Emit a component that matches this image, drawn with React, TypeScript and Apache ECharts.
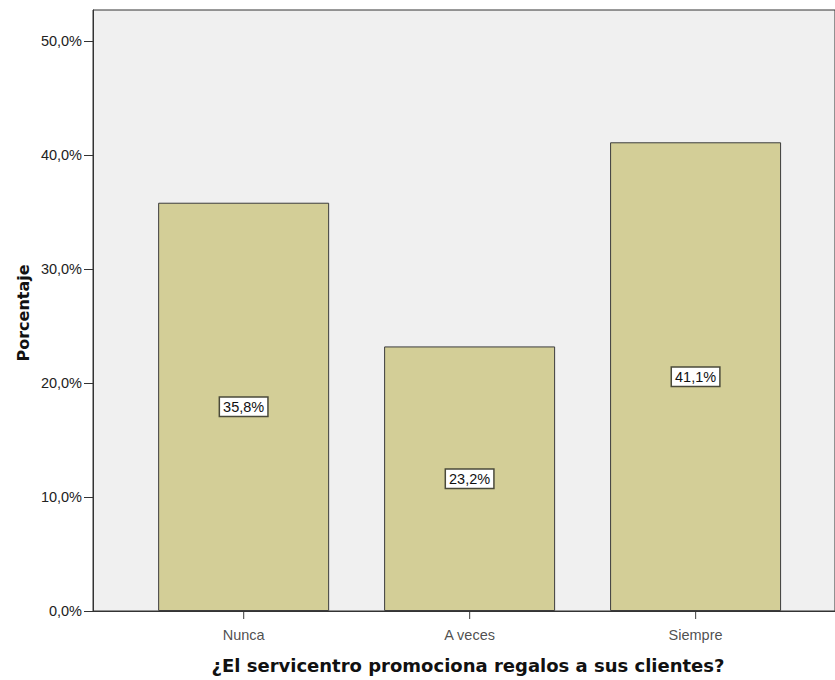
import React, { useEffect, useRef } from "react";
import * as echarts from "echarts";

const categories = ["Nunca", "A veces", "Siempre"];
const percentages = [35.8, 23.2, 41.1];
const yTicks = [0, 10, 20, 30, 40, 50];
const xTitle = "¿El servicentro promociona regalos a sus clientes?";
const yTitle = "Porcentaje";

const FONT = "'Liberation Sans', Arial, sans-serif";
const TITLE_FONT = "'DejaVu Sans', Verdana, sans-serif";
const fmt = (v: number) => v.toFixed(1).replace(".", ",") + "%";

export default function App() {
  const ref = useRef<HTMLDivElement>(null);
  useEffect(() => {
    if (!ref.current) return;
    const chart = echarts.init(ref.current, null, { renderer: "svg" });
    chart.setOption({
      animation: false,
      backgroundColor: "#ffffff",
      grid: {
        left: 93,
        right: 0,
        top: 10,
        bottom: 680 - 611,
        show: true,
        backgroundColor: "#f0f0f0",
        borderColor: "#333333",
        borderWidth: 1,
      },
      xAxis: {
        type: "value",
        min: 1 / 3,
        max: 3.617,
        splitLine: { show: false },
        axisLine: { show: true, lineStyle: { color: "#333333", width: 1 } },
        axisTick: { show: false },
        axisLabel: { show: false },
      },
      yAxis: {
        type: "value",
        min: 0,
        max: 52.7,
        interval: 10,
        splitLine: { show: false },
        axisLine: { show: true, lineStyle: { color: "#333333", width: 1 } },
        axisTick: { show: true, length: 9, lineStyle: { color: "#333333" } },
        axisLabel: {
          showMaxLabel: false,
          formatter: (v: number) => (yTicks.includes(v) ? fmt(v) : ""),
          color: "#222222",
          fontFamily: FONT,
          fontSize: 14.5,
          margin: 11,
        },
      },
      graphic: [
        {
          type: "text",
          x: 468,
          y: 665,
          style: {
            text: xTitle,
            align: "center",
            verticalAlign: "middle",
            font: `bold 18px ${TITLE_FONT}`,
            fill: "#111111",
          },
        },
        {
          type: "text",
          x: 23,
          y: 313,
          rotation: Math.PI / 2,
          style: {
            text: yTitle,
            align: "center",
            verticalAlign: "middle",
            font: `bold 16px ${TITLE_FONT}`,
            fill: "#111111",
          },
        },
      ],
      series: [
        {
          type: "bar",
          data: percentages.map((v, i) => [i + 1, v]),
          barWidth: 171,
          itemStyle: {
            color: "#d3ce97",
            borderColor: "#3c3c3c",
            borderWidth: 1,
          },
          label: {
            show: true,
            position: "inside",
            formatter: (p: any) => fmt(p.value[1]),
            color: "#111111",
            fontFamily: FONT,
            fontSize: 14.5,
            backgroundColor: "#ffffff",
            borderColor: "#4a4a3a",
            borderWidth: 1.5,
            padding: [2, 3, 1, 3],
          },
        },
        {
          type: "scatter",
          data: categories.map((c, i) => [i + 1, 0]),
          symbol: "rect",
          symbolSize: [1.2, 8],
          symbolOffset: [0, 4],
          clip: false,
          silent: true,
          itemStyle: { color: "#333333" },
          label: {
            show: true,
            position: "bottom",
            distance: 8,
            formatter: (p: any) => categories[p.dataIndex],
            color: "#222222",
            fontFamily: FONT,
            fontSize: 14.5,
          },
        },
      ],
    });
    return () => chart.dispose();
  }, []);
  return <div ref={ref} style={{ width: 835, height: 680, position: "absolute", left: 0, top: 0 }} />;
}
